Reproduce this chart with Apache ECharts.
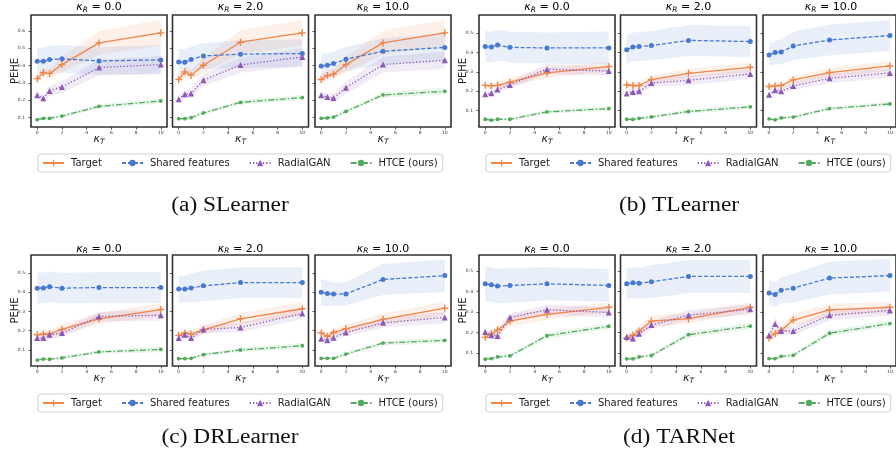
<!DOCTYPE html>
<html><head><meta charset="utf-8">
<script src="https://cdn.jsdelivr.net/npm/echarts@6/dist/echarts.min.js"></script>
<style>html,body{margin:0;padding:0;background:#fff}#c{width:896px;height:454px}</style>
</head><body><div id="c"></div>
<script>
// ---- data ----
const kTValues = [0, 0.5, 1, 2, 5, 10];
const kRLabels = ['0.0', '2.0', '10.0'];
const methodNames = ['Target', 'Shared features', 'RadialGAN', 'HTCE (ours)'];
const xTickValues = [0, 2, 4, 6, 8, 10];
const captions = ['(a) SLearner', '(b) TLearner', '(c) DRLearner', '(d) TARNet'];
const yTicksA = [0.1, 0.2, 0.3, 0.4, 0.5, 0.6];
const yTicksB = [0.1, 0.2, 0.3, 0.4, 0.5];
const yTicksC = [0.1, 0.2, 0.3, 0.4, 0.5];
const yTicksD = [0.1, 0.2, 0.3, 0.4, 0.5];
const yMin = [0.046, 0.015, 0.017, 0.038];
const yMax = [0.692, 0.593, 0.593, 0.577];

// (a) SLearner  [kR=0, kR=2, kR=10]
const slTarget = [[0.325,0.360,0.354,0.406,0.531,0.589],[0.320,0.364,0.345,0.402,0.535,0.589],[0.320,0.343,0.350,0.406,0.531,0.589]];
const slShared = [[0.425,0.425,0.435,0.439,0.427,0.433],[0.421,0.420,0.435,0.456,0.466,0.470],[0.398,0.402,0.412,0.437,0.483,0.505]];
const slRadial = [[0.229,0.212,0.254,0.277,0.389,0.406],[0.206,0.235,0.239,0.316,0.404,0.450],[0.229,0.219,0.213,0.273,0.406,0.431]];
const slHtce   = [[0.088,0.096,0.096,0.109,0.165,0.196],[0.094,0.094,0.100,0.127,0.188,0.216],[0.096,0.098,0.103,0.136,0.231,0.252]];
const slTargetStd = [[0.025,0.025,0.03,0.045,0.07,0.075],[0.025,0.03,0.03,0.045,0.07,0.075],[0.025,0.03,0.03,0.045,0.07,0.075]];
const slSharedStd = [[0.08,0.08,0.08,0.08,0.08,0.085],[0.075,0.075,0.075,0.075,0.08,0.08],[0.07,0.07,0.07,0.07,0.075,0.08]];
const slRadialStd = [[0.02,0.02,0.03,0.035,0.045,0.05],[0.02,0.025,0.03,0.035,0.045,0.05],[0.02,0.02,0.025,0.035,0.045,0.05]];
const slHtceStd   = [[0.008,0.008,0.01,0.01,0.012,0.015],[0.008,0.008,0.01,0.01,0.012,0.015],[0.008,0.008,0.01,0.012,0.015,0.02]];

// (b) TLearner
const tlTarget = [[0.230,0.227,0.230,0.246,0.294,0.327],[0.232,0.229,0.229,0.260,0.292,0.323],[0.224,0.227,0.229,0.258,0.296,0.330]];
const tlShared = [[0.430,0.428,0.438,0.426,0.423,0.423],[0.414,0.428,0.430,0.435,0.462,0.456],[0.387,0.399,0.402,0.433,0.464,0.487]];
const tlRadial = [[0.184,0.189,0.208,0.232,0.313,0.304],[0.188,0.196,0.199,0.242,0.256,0.289],[0.182,0.205,0.199,0.227,0.266,0.294]];
const tlHtce   = [[0.055,0.050,0.055,0.055,0.093,0.110],[0.055,0.054,0.060,0.067,0.095,0.119],[0.057,0.052,0.062,0.066,0.110,0.134]];
const tlTargetStd = [[0.015,0.015,0.015,0.02,0.025,0.025],[0.015,0.015,0.015,0.02,0.025,0.025],[0.015,0.015,0.015,0.02,0.025,0.025]];
const tlSharedStd = [[0.08,0.08,0.08,0.08,0.08,0.085],[0.075,0.075,0.075,0.075,0.08,0.08],[0.06,0.06,0.065,0.075,0.08,0.08]];
const tlRadialStd = [[0.012,0.015,0.015,0.02,0.025,0.025],[0.012,0.015,0.015,0.02,0.025,0.025],[0.012,0.015,0.015,0.02,0.025,0.025]];
const tlHtceStd   = [[0.006,0.006,0.007,0.008,0.01,0.012],[0.006,0.006,0.007,0.008,0.01,0.012],[0.006,0.006,0.007,0.008,0.01,0.012]];

// (c) DRLearner
const drTarget = [[0.179,0.183,0.183,0.207,0.262,0.310],[0.176,0.188,0.183,0.205,0.262,0.314],[0.188,0.171,0.191,0.210,0.259,0.317]];
const drShared = [[0.421,0.422,0.428,0.421,0.424,0.424],[0.416,0.416,0.422,0.433,0.450,0.450],[0.400,0.393,0.390,0.391,0.466,0.486]];
const drRadial = [[0.162,0.162,0.179,0.188,0.274,0.281],[0.162,0.179,0.162,0.207,0.217,0.290],[0.159,0.150,0.164,0.191,0.241,0.269]];
const drHtce   = [[0.048,0.053,0.052,0.059,0.090,0.103],[0.055,0.055,0.057,0.076,0.100,0.122],[0.057,0.057,0.057,0.079,0.136,0.150]];
const drTargetStd = [[0.02,0.02,0.02,0.025,0.03,0.035],[0.02,0.02,0.02,0.025,0.03,0.035],[0.02,0.02,0.02,0.025,0.03,0.035]];
const drSharedStd = [[0.08,0.08,0.08,0.08,0.08,0.08],[0.07,0.07,0.075,0.08,0.08,0.08],[0.07,0.065,0.06,0.06,0.08,0.085]];
const drRadialStd = [[0.015,0.015,0.02,0.02,0.025,0.03],[0.015,0.015,0.02,0.02,0.025,0.03],[0.015,0.015,0.02,0.02,0.025,0.03]];
const drHtceStd   = [[0.006,0.006,0.006,0.008,0.01,0.015],[0.006,0.006,0.006,0.008,0.01,0.015],[0.006,0.006,0.006,0.008,0.012,0.015]];

// (d) TARNet
const taTarget = [[0.177,0.194,0.213,0.256,0.289,0.323],[0.174,0.187,0.208,0.256,0.268,0.323],[0.174,0.195,0.210,0.261,0.311,0.323]];
const taShared = [[0.437,0.432,0.426,0.429,0.437,0.429],[0.437,0.442,0.440,0.447,0.473,0.473],[0.392,0.385,0.406,0.416,0.465,0.477]];
const taRadial = [[0.203,0.187,0.184,0.273,0.311,0.298],[0.179,0.171,0.195,0.237,0.285,0.313],[0.187,0.242,0.208,0.208,0.284,0.308]];
const taHtce   = [[0.071,0.074,0.082,0.087,0.185,0.231],[0.073,0.073,0.082,0.089,0.190,0.232],[0.074,0.074,0.085,0.090,0.197,0.244]];
const taTargetStd = [[0.015,0.02,0.02,0.03,0.025,0.025],[0.015,0.02,0.02,0.03,0.025,0.025],[0.015,0.02,0.02,0.03,0.03,0.025]];
const taSharedStd = [[0.085,0.085,0.085,0.085,0.08,0.08],[0.075,0.075,0.075,0.08,0.08,0.08],[0.06,0.06,0.065,0.07,0.08,0.08]];
const taRadialStd = [[0.015,0.02,0.02,0.02,0.025,0.025],[0.015,0.02,0.02,0.02,0.025,0.025],[0.015,0.03,0.02,0.02,0.025,0.025]];
const taHtceStd   = [[0.006,0.007,0.008,0.008,0.015,0.015],[0.006,0.007,0.008,0.008,0.015,0.015],[0.006,0.007,0.008,0.008,0.015,0.015]];

// ---- styling / layout ----
const colors = ['#ee854a', '#4878d0', '#8c5ab4', '#55a95f'];
const figs = [
  {means:[slTarget,slShared,slRadial,slHtce], stds:[slTargetStd,slSharedStd,slRadialStd,slHtceStd], ticks:yTicksA, ox:0,   oy:0},
  {means:[tlTarget,tlShared,tlRadial,tlHtce], stds:[tlTargetStd,tlSharedStd,tlRadialStd,tlHtceStd], ticks:yTicksB, ox:448, oy:0},
  {means:[drTarget,drShared,drRadial,drHtce], stds:[drTargetStd,drSharedStd,drRadialStd,drHtceStd], ticks:yTicksC, ox:0,   oy:240},
  {means:[taTarget,taShared,taRadial,taHtce], stds:[taTargetStd,taSharedStd,taRadialStd,taHtceStd], ticks:yTicksD, ox:448, oy:240}
];
const panelLeft = [31, 172.5, 315];
const panelW = 136;
const plusPath = 'path://M4,0L6,0L6,4L10,4L10,6L6,6L6,10L4,10L4,6L0,6L0,4L4,4Z';
const lineStyles = [
  {type:'solid', width:1.3},
  {type:[4,2], width:1.3},
  {type:[1.3,2], width:1.3},
  {type:[6,2,1.5,2], width:1.3}
];
const symbols = [plusPath, 'circle', 'triangle', 'circle'];
const symbolSizes = [7, 5, 6, 3.8];
const FONT = 'DejaVu Sans';
const mathRich = {
  k: {fontFamily: FONT, fontStyle: 'italic', fontSize: 11, color: '#222'},
  s: {fontFamily: FONT, fontStyle: 'italic', fontSize: 7.5, color: '#222', padding: [5, 0, 0, 0]},
  n: {fontFamily: FONT, fontSize: 11, color: '#222'}
};

function bandSeries(gridIdx, mean, sd, color) {
  return {
    type: 'custom', xAxisIndex: gridIdx, yAxisIndex: gridIdx, silent: true, z: 1, clip: true,
    data: kTValues.map((x, i) => [x, mean[i] - sd[i], mean[i] + sd[i]]),
    renderItem: function (params, api) {
      if (params.dataIndex !== 0) return null;
      const upper = [], lower = [];
      for (let i = 0; i < kTValues.length; i++) {
        upper.push(api.coord([kTValues[i], mean[i] + sd[i]]));
        lower.push(api.coord([kTValues[i], mean[i] - sd[i]]));
      }
      return {type: 'polygon', shape: {points: upper.concat(lower.reverse())},
        style: {fill: color, opacity: 0.12}};
    }
  };
}

const grids = [], xAxes = [], yAxes = [], series = [], legends = [], graphics = [];
let gi = 0;
figs.forEach((f, fi) => {
  for (let p = 0; p < 3; p++) {
    grids.push({left: f.ox + panelLeft[p], top: f.oy + 15, width: panelW, height: f.oy ? 111 : 112,
      show: true, borderColor: '#333', borderWidth: 1.6, backgroundColor: 'transparent'});
    xAxes.push({type: 'value', gridIndex: gi, min: -0.5, max: 10.5, position: 'bottom',
      axisLine: {show: false, onZero: false}, splitLine: {show: false},
      axisTick: {show: true, length: 2.5, customValues: xTickValues, lineStyle: {color: '#333', width: 0.8}},
      axisLabel: {show: true, customValues: xTickValues, fontSize: 4.5, color: '#333', margin: 3, fontFamily: FONT},
      name: '{k|κ}{s|T}', nameLocation: 'middle', nameGap: 6, nameMoveOverlap: false,
      nameTextStyle: {rich: mathRich, verticalAlign: 'top'}});
    yAxes.push({type: 'value', gridIndex: gi, min: yMin[fi], max: yMax[fi], position: 'left',
      axisLine: {show: false, onZero: false}, splitLine: {show: false},
      axisTick: {show: true, length: 2.5, customValues: f.ticks, lineStyle: {color: '#333', width: 0.8}},
      axisLabel: {show: p === 0, customValues: f.ticks, fontSize: 4.5, color: '#333', margin: 6, fontFamily: FONT,
        formatter: v => v.toFixed(1)},
      name: p === 0 ? 'PEHE' : '', nameLocation: 'middle', nameGap: 11, nameMoveOverlap: false,
      nameTextStyle: {fontFamily: FONT, fontSize: 10, color: '#222'}});
    graphics.push({type: 'text', x: f.ox + panelLeft[p] + panelW / 2, y: f.oy + (f.oy ? 8.7 : 7.5),
      style: {text: '{k|κ}{s|R}{n| = ' + kRLabels[p] + '}', rich: mathRich, align: 'center', verticalAlign: 'middle'}});
    for (let m = 0; m < 4; m++) {
      series.push(bandSeries(gi, f.means[m][p], f.stds[m][p], colors[m]));
    }
    for (let m = 0; m < 4; m++) {
      series.push({type: 'line', name: methodNames[m], xAxisIndex: gi, yAxisIndex: gi, z: 3 + m,
        color: colors[m], symbol: symbols[m], symbolSize: symbolSizes[m], showAllSymbol: true,
        lineStyle: Object.assign({color: colors[m]}, lineStyles[m]),
        itemStyle: {color: colors[m]},
        data: kTValues.map((x, i) => [x, f.means[m][p][i]])});
    }
    gi++;
  }
  legends.push({left: f.ox + 38, top: f.oy + 154, orient: 'horizontal',
    itemWidth: 21, itemHeight: 8, itemGap: 19, padding: [4, 5, 4, 4],
    borderColor: '#d0d0d0', borderWidth: 1, borderRadius: 3, backgroundColor: '#fff',
    textStyle: {fontFamily: FONT, fontSize: 10, color: '#222', padding: [0, 0, 0, 2]},
    data: methodNames, selectedMode: false});
  graphics.push({type: 'text', x: f.ox + (fi % 2 ? 679 - 448 : 230), y: f.oy ? 438 : 206, scaleX: 1.17,
    style: {text: captions[fi], fontFamily: 'Liberation Serif', fontSize: 20, fill: '#111',
      align: 'center', verticalAlign: 'middle'}});
});

const chart = echarts.init(document.getElementById('c'), null, {renderer: 'canvas'});
chart.setOption({
  animation: false,
  backgroundColor: '#fff',
  grid: grids, xAxis: xAxes, yAxis: yAxes, series: series, legend: legends, graphic: graphics
});
</script></body></html>
